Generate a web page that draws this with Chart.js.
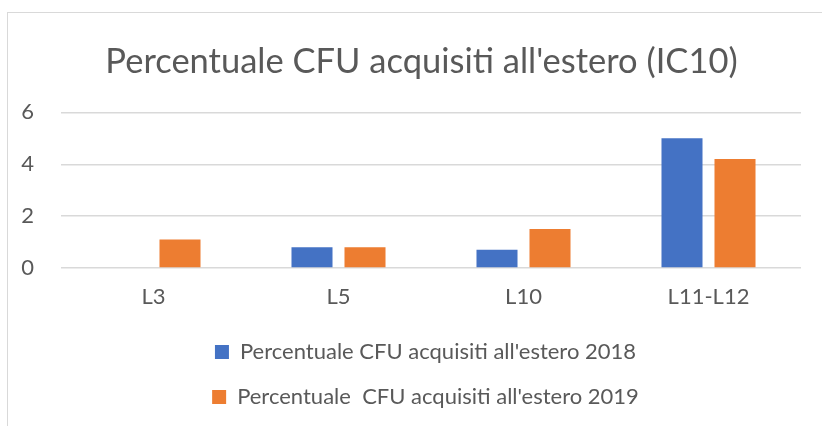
<!DOCTYPE html>
<html><head><meta charset="utf-8">
<script src="https://cdn.jsdelivr.net/npm/chart.js@4"></script>
<style>
html,body{margin:0;padding:0;background:#fff;}
#wrap{position:relative;width:822px;height:426px;overflow:hidden;}
#frame{position:absolute;left:7px;top:12px;width:900px;height:500px;border-left:1px solid #d9d9d9;border-top:1px solid #d9d9d9;}
canvas{position:absolute;left:0;top:0;}
</style></head>
<body>
<div id="wrap"><div id="frame"></div><canvas id="c" width="822" height="426"></canvas></div>
<script>
const categories = ["L3", "L5", "L10", "L11-L12"];
const series2018 = [0, 0.8, 0.7, 5.0];
const series2019 = [1.1, 0.8, 1.5, 4.2];
const seriesNames = ["Percentuale CFU acquisiti all'estero 2018", "Percentuale  CFU acquisiti all'estero 2019"];
const yTicks = [0, 2, 4, 6];

const FONT = "Lato, 'Open Sans', sans-serif";
const shiftBoxes = {
  id: 'shiftBoxes',
  beforeDraw(chart) {
    if (chart.legend) { chart.legend.left = 50; chart.legend.right = 801; }
    if (chart.titleBlock) { chart.titleBlock.left = 42; chart.titleBlock.right = 801; }
  }
};
new Chart(document.getElementById('c'), {
  type: 'bar',
  data: {
    labels: categories,
    datasets: [
      {label: seriesNames[0], data: series2018, backgroundColor: '#4472C4', categoryPercentage: 0.573, barPercentage: 0.774},
      {label: seriesNames[1], data: series2019, backgroundColor: '#ED7D31', categoryPercentage: 0.573, barPercentage: 0.774}
    ]
  },
  plugins: [shiftBoxes],
  options: {
    responsive: false,
    animation: false,
    layout: {padding: {left: 0, right: 21, top: 0, bottom: 8}},
    plugins: {
      title: {display: true, text: "Percentuale CFU acquisiti all'estero (IC10)", color: '#595959',
        font: {family: FONT, size: 34.5, weight: 'normal'}, padding: {top: 41, bottom: 30}},
      legend: {position: 'bottom', labels: {color: '#595959', font: {family: FONT, size: 22}, boxWidth: 14, boxHeight: 14, padding: 23}},
      tooltip: {enabled: false}
    },
    scales: {
      x: {grid: {display: false}, border: {display: false},
        afterFit: s => { s.height = 50; },
        ticks: {color: '#595959', font: {family: FONT, size: 22}, padding: 8}},
      y: {min: 0, max: 6,
        afterFit: s => { s.width = 61; },
        afterBuildTicks: s => { s.ticks = yTicks.map(v => ({value: v})); },
        grid: {color: '#d9d9d9', lineWidth: 1.5, drawTicks: false}, border: {display: false},
        ticks: {color: '#595959', font: {family: FONT, size: 22}, padding: 27}}
    }
  }
});
</script>
</body></html>
